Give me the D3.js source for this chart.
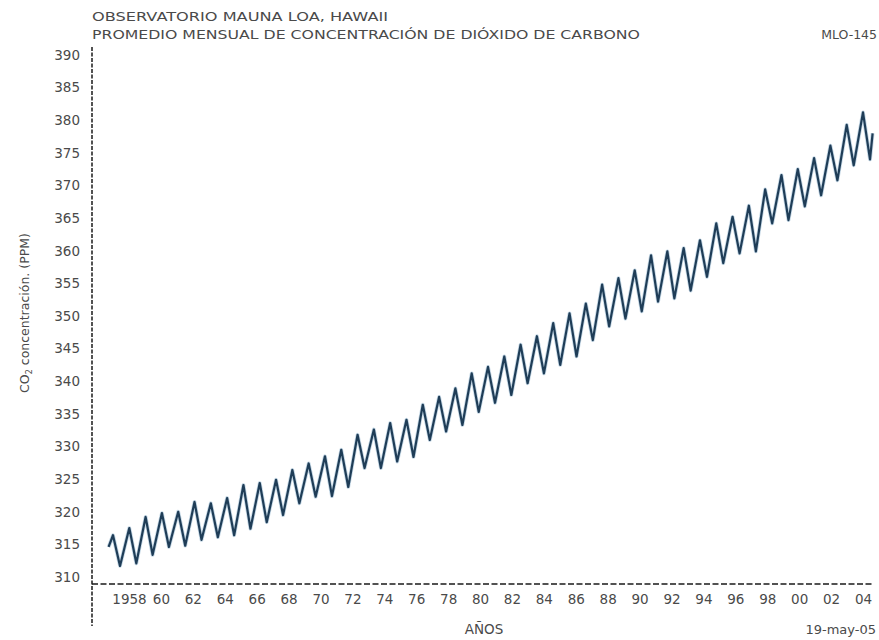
<!DOCTYPE html>
<html>
<head>
<meta charset="utf-8">
<script src="https://cdn.jsdelivr.net/npm/d3@7"></script>
<style>
  body { margin: 0; background: #fff; }
  text { font-family: "DejaVu Sans", sans-serif; fill: #4a4a4a; }
</style>
</head>
<body>
<div id="chart"></div>
<script>
// years shown on the chart, one seasonal cycle each
const years = [1958, 1959, 1960, 1961, 1962, 1963, 1964, 1965, 1966, 1967, 1968, 1969,
  1970, 1971, 1972, 1973, 1974, 1975, 1976, 1977, 1978, 1979, 1980, 1981, 1982, 1983,
  1984, 1985, 1986, 1987, 1988, 1989, 1990, 1991, 1992, 1993, 1994, 1995, 1996, 1997,
  1998, 1999, 2000, 2001, 2002, 2003, 2004];

// spring maximum of each year (ppm)
const peaks = [316.4, 317.5, 319.2, 319.8, 320.0, 321.5, 321.3, 322.1, 324.1, 324.4, 324.9, 326.4,
  327.4, 328.5, 329.5, 331.8, 332.6, 333.6, 334.1, 336.4, 337.6, 338.9, 341.2, 342.2, 343.8, 345.6,
  346.9, 348.9, 350.4, 351.9, 354.8, 355.8, 357.0, 359.3, 359.9, 360.4, 361.6, 364.2, 365.2, 366.9,
  369.4, 371.6, 372.5, 374.2, 376.1, 379.3, 381.2];

// autumn minimum of each year (ppm)
const troughs = [311.7, 312.1, 313.4, 314.6, 314.8, 315.7, 316.1, 316.4, 317.4, 318.4, 319.5, 321.3,
  322.3, 322.4, 323.8, 326.7, 326.7, 327.7, 328.4, 331.0, 332.3, 333.3, 335.3, 336.7, 337.9, 339.7,
  341.2, 342.5, 343.8, 346.3, 348.4, 349.6, 350.7, 352.2, 352.7, 353.9, 356.0, 358.1, 359.6, 359.9,
  364.2, 364.7, 366.8, 368.5, 370.8, 373.1, 374.0];

const firstValue = { t: 1958.1, v: 314.6 };
const lastValue = { t: 2004.96, v: 378.0 };

const yTicks = [310, 315, 320, 325, 330, 335, 340, 345, 350, 355, 360, 365, 370, 375, 380, 385, 390];
const xTickYears = [1958, 1960, 1962, 1964, 1966, 1968, 1970, 1972, 1974, 1976, 1978, 1980, 1982,
  1984, 1986, 1988, 1990, 1992, 1994, 1996, 1998, 2000, 2002, 2004];
const xTickLabels = ['1958', '60', '62', '64', '66', '68', '70', '72', '74', '76', '78', '80', '82',
  '84', '86', '88', '90', '92', '94', '96', '98', '00', '02', '04'];

const width = 879;
const height = 640;

const svg = d3.select('#chart')
  .append('svg')
  .attr('width', width)
  .attr('height', height);

// build zigzag series: start, then peak / trough per year, then end
const series = [firstValue];
years.forEach((yr, i) => {
  series.push({ t: yr + 0.37, v: peaks[i] });
  series.push({ t: yr + 0.8, v: troughs[i] });
});
series.push(lastValue);

const xScale = d3.scaleLinear()
  .domain([1958.37, 2004.37])
  .range([113, 863]);

// the printed year labels sit on their own spacing
const xLabelScale = d3.scaleLinear()
  .domain([1958, 2004])
  .range([129, 863]);

const yScale = d3.scaleLinear()
  .domain([310, 390])
  .range([577, 55]);

const axisX = 92;
const axisY = 584;

// Y axis (dashed line)
svg.append('line')
  .attr('x1', axisX).attr('x2', axisX)
  .attr('y1', 47).attr('y2', 626)
  .attr('stroke', '#1a1a1a')
  .attr('stroke-width', 1.5)
  .attr('stroke-dasharray', '4,1.5');

// X axis (dashed line)
svg.append('line')
  .attr('x1', axisX).attr('x2', 873)
  .attr('y1', axisY).attr('y2', axisY)
  .attr('stroke', '#1a1a1a')
  .attr('stroke-width', 1.5)
  .attr('stroke-dasharray', '6,2.5');

// Y tick labels
const yAxis = d3.axisLeft(yScale)
  .tickValues(yTicks)
  .tickSize(0)
  .tickPadding(0);

const yAxisG = svg.append('g')
  .attr('transform', 'translate(80,0)')
  .call(yAxis);
yAxisG.select('.domain').remove();
yAxisG.selectAll('text')
  .attr('font-family', '"DejaVu Sans", sans-serif')
  .attr('font-size', 13.5)
  .attr('fill', '#444');

// X tick labels
const xAxis = d3.axisBottom(xLabelScale)
  .tickValues(xTickYears)
  .tickFormat((d, i) => xTickLabels[i])
  .tickSize(0)
  .tickPadding(0);

const xAxisG = svg.append('g')
  .attr('transform', 'translate(0,594)')
  .call(xAxis);
xAxisG.select('.domain').remove();
xAxisG.selectAll('text')
  .attr('font-family', '"DejaVu Sans", sans-serif')
  .attr('font-size', 13.5)
  .attr('fill', '#4a4a4a');

// CO2 line: soft halo underneath, then the dark stroke
const line = d3.line()
  .x(d => xScale(d.t))
  .y(d => yScale(d.v));

svg.append('path')
  .datum(series)
  .attr('d', line)
  .attr('fill', 'none')
  .attr('stroke', '#9dbdd3')
  .attr('stroke-width', 3.8)
  .attr('stroke-linejoin', 'round')
  .attr('opacity', 0.6);

svg.append('path')
  .datum(series)
  .attr('d', line)
  .attr('fill', 'none')
  .attr('stroke', '#1f3d57')
  .attr('stroke-width', 2.2)
  .attr('stroke-linejoin', 'round');

// Titles
svg.append('text')
  .attr('x', 92).attr('y', 21)
  .attr('font-size', 13)
  .attr('fill', '#3a3a3a')
  .attr('textLength', 296)
  .attr('lengthAdjust', 'spacingAndGlyphs')
  .text('OBSERVATORIO MAUNA LOA, HAWAII');

svg.append('text')
  .attr('x', 92).attr('y', 39)
  .attr('font-size', 13)
  .attr('fill', '#3a3a3a')
  .attr('textLength', 548)
  .attr('lengthAdjust', 'spacingAndGlyphs')
  .text('PROMEDIO MENSUAL DE CONCENTRACIÓN DE DIÓXIDO DE CARBONO');

svg.append('text')
  .attr('x', 877).attr('y', 39)
  .attr('text-anchor', 'end')
  .attr('font-size', 12.5)
  .attr('fill', '#666')
  .text('MLO-145');

// Y-axis label
const yLabel = svg.append('text')
  .attr('transform', 'translate(29,313) rotate(-90)')
  .attr('text-anchor', 'middle')
  .attr('font-size', 12.5);
yLabel.append('tspan').text('CO');
yLabel.append('tspan').attr('font-size', 8).attr('dy', 3).text('2');
yLabel.append('tspan').attr('dy', -3).text(' concentración. (PPM)');

// X-axis label
svg.append('text')
  .attr('x', 484).attr('y', 634)
  .attr('text-anchor', 'middle')
  .attr('font-size', 13.5)
  .text('AÑOS');

svg.append('text')
  .attr('x', 876).attr('y', 634)
  .attr('text-anchor', 'end')
  .attr('font-size', 13)
  .attr('fill', '#666')
  .text('19-may-05');
</script>
</body>
</html>
